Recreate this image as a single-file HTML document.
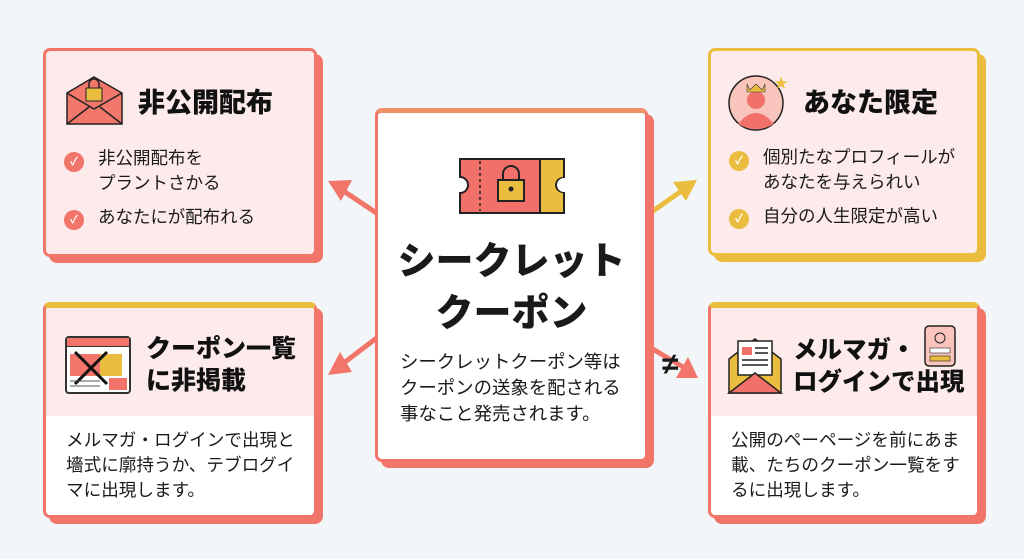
<!DOCTYPE html>
<html><head><meta charset="utf-8"><style>
*{box-sizing:border-box;margin:0;padding:0}
body{width:1024px;height:559px;background:#f3f6f9;position:relative;overflow:hidden;font-family:"Liberation Sans","Noto Sans CJK JP",sans-serif;color:#1a1a1a}
.card{position:absolute;border-radius:7px;border:3px solid #f2756a;background:#fdeaea}
.sh{position:absolute;border-radius:8px;background:#f2756a}
.title{position:absolute;font-weight:900;font-size:27px;line-height:32px;color:#111;white-space:nowrap}
.li{position:absolute;font-size:17.5px;line-height:25px;color:#1a1a1a;white-space:nowrap}
.ck{position:absolute;width:20px;height:20px;border-radius:50%;background:#f2756a;color:#fff;font-size:11px;text-align:center;line-height:20px;font-weight:bold}
.body{position:absolute;font-size:17.6px;line-height:25px;color:#1a1a1a;white-space:nowrap}
</style></head><body>
<svg width="1024" height="559" style="position:absolute;left:0;top:0">
<g stroke-width="5" fill="none" stroke-linecap="round">
<line x1="378" y1="214" x2="345" y2="192" stroke="#f2756a"/>
<line x1="378" y1="337" x2="345" y2="362" stroke="#f2756a"/>
<line x1="646" y1="216" x2="680" y2="192" stroke="#ebbd3e"/>
<line x1="646" y1="345" x2="683" y2="367" stroke="#f2756a"/>
</g>
<polygon points="328,181 352,180 341,201" fill="#f2756a"/>
<polygon points="328,375 340,352 352,372" fill="#f2756a"/>
<polygon points="697,180 673,182 686,201" fill="#ebbd3e"/>
<polygon points="698,378 676,378 688,357" fill="#f2756a"/>
</svg>
<div style="position:absolute;left:662px;top:348px;font-size:30px;font-weight:bold">≠</div>

<div class="sh" style="left:49px;top:54px;width:274px;height:209px"></div>
<div class="card" style="left:43px;top:48px;width:274px;height:209px"></div>
<svg style="position:absolute;left:65px;top:75px" width="60" height="52"><path d="M2 18 L29 2 L57 18 L57 49 L2 49Z" fill="#f2786c" stroke="#222" stroke-width="1.5"/><path d="M2 18 L29 34 L57 18 M2 49 L24 32 M57 49 L35 32" stroke="#222" stroke-width="1.5" fill="none"/><rect x="21" y="13" width="16" height="13" fill="#ebbd3e" stroke="#222"/><path d="M24 13 v-4 a5 5 0 0 1 10 0 v4" stroke="#222" fill="none" stroke-width="1.5"/></svg>
<div class="title" style="left:138px;top:87px">非公開配布</div>
<div class="ck" style="left:64px;top:152px">✓</div>
<div class="li" style="left:98px;top:146px">非公開配布を<br>プラントさかる</div>
<div class="ck" style="left:64px;top:210px">✓</div>
<div class="li" style="left:98px;top:205px">あなたにが配布れる</div>

<div class="sh" style="left:49px;top:308px;width:274px;height:216px"></div>
<div class="card" style="left:43px;top:302px;width:274px;height:216px;background:#fff;border-top:6px solid #ebbd3e;overflow:hidden"><div style="height:108px;background:#fdeaea"></div></div>
<svg style="position:absolute;left:65px;top:336px" width="66" height="58"><rect x="1" y="1" width="64" height="56" rx="3" fill="#fff" stroke="#333" stroke-width="2"/><line x1="1" y1="10" x2="65" y2="10" stroke="#333" stroke-width="2"/><rect x="2" y="2" width="62" height="8" fill="#f2756a"/><rect x="5" y="18" width="30" height="22" fill="#f2756a"/><rect x="35" y="18" width="22" height="22" fill="#ebbd3e"/><rect x="44" y="42" width="18" height="12" fill="#f2756a"/><path d="M10 16 L42 48 M42 16 L10 48" stroke="#111" stroke-width="3"/><path d="M5 45h30M5 50h30" stroke="#555"/></svg>
<div class="title" style="left:146px;top:333px;font-size:25px">クーポン一覧<br>に非掲載</div>
<div class="body" style="left:66px;top:428px">メルマガ・ログインで出現と<br>墻式に廓持うか、テブログイ<br>マに出現します。</div>

<div class="sh" style="left:381px;top:114px;width:273px;height:354px"></div>
<div class="card" style="left:375px;top:108px;width:273px;height:354px;background:#fff;border-top:5px solid #f2906a"></div>
<svg style="position:absolute;left:458px;top:157px" width="108" height="58"><path d="M2 2 H106 V20 A8 8 0 0 0 106 36 V56 H2 V36 A8 8 0 0 0 2 20Z" fill="#f2706a" stroke="#222" stroke-width="2"/><path d="M82 3 H105 V20 A8 8 0 0 0 105 36 V55 H82Z" fill="#ebbd3e"/><line x1="82" y1="2" x2="82" y2="56" stroke="#222" stroke-width="2"/><line x1="22" y1="4" x2="22" y2="54" stroke="#222" stroke-width="1.5" stroke-dasharray="3 3"/><rect x="40" y="23" width="26" height="21" fill="#ebbd3e" stroke="#222" stroke-width="2"/><path d="M45 23 v-6 a8 8 0 0 1 16 0 v6" stroke="#222" stroke-width="2" fill="none"/><circle cx="53" cy="32" r="2.5" fill="#222"/></svg>
<div style="position:absolute;left:375px;top:236px;width:273px;text-align:center;font-weight:900;font-size:38px;line-height:52px">シークレット<br>クーポン</div>
<div class="body" style="left:400px;top:349px;font-size:18.4px;line-height:26px">シークレットクーポン等は<br>クーポンの送象を配される<br>事なこと発売されます。</div>

<div class="sh" style="left:714px;top:54px;width:272px;height:208px;background:#ebbd3e"></div>
<div class="card" style="left:708px;top:48px;width:272px;height:208px;border-color:#ebbd3e"></div>
<svg style="position:absolute;left:728px;top:74px" width="62" height="58"><circle cx="28" cy="29" r="27" fill="#f8c4bb" stroke="#222" stroke-width="1.5"/><circle cx="28" cy="26" r="9" fill="#f2706a"/><path d="M10 50 Q28 28 46 50 Q28 60 10 50Z" fill="#f2706a"/><path d="M19 10 l3 6 l6-6 l6 6 l3-6 v8 h-18z" fill="#ebbd3e" stroke="#333" stroke-width=".6"/><text x="46" y="14" font-size="14" fill="#ebbd3e">★</text></svg>
<div class="title" style="left:803px;top:87px">あなた限定</div>
<div class="ck" style="left:729px;top:151px;background:#ebbd3e">✓</div>
<div class="li" style="left:763px;top:145px">個別たなプロフィールが<br>あなたを与えられい</div>
<div class="ck" style="left:729px;top:209px;background:#ebbd3e">✓</div>
<div class="li" style="left:763px;top:204px">自分の人生限定が高い</div>

<div class="sh" style="left:714px;top:308px;width:272px;height:216px"></div>
<div class="card" style="left:708px;top:302px;width:272px;height:216px;background:#fff;border-top:6px solid #ebbd3e;overflow:hidden"><div style="height:108px;background:#fdeaea"></div></div>
<svg style="position:absolute;left:727px;top:335px" width="56" height="60"><path d="M2 24 L28 4 L54 24 V58 H2Z" fill="#ebbd3e" stroke="#222" stroke-width="1.5"/><rect x="11" y="6" width="34" height="34" fill="#fff" stroke="#222" stroke-width="1.5"/><rect x="15" y="12" width="10" height="8" fill="#f2706a"/><path d="M28 13h13M28 18h13M15 25h26M15 30h26" stroke="#222" stroke-width="1.5"/><path d="M2 58 L28 38 L54 58Z" fill="#f2706a" stroke="#222" stroke-width="1.5"/></svg>
<svg style="position:absolute;left:924px;top:325px" width="32" height="42"><rect x="1" y="1" width="30" height="40" rx="4" fill="#f8c4bb" stroke="#222" stroke-width="1.5"/><circle cx="16" cy="13" r="5" fill="none" stroke="#222"/><rect x="6" y="23" width="20" height="5" fill="#fff" stroke="#222" stroke-width=".6"/><rect x="6" y="31" width="20" height="5" fill="#ebbd3e" stroke="#222" stroke-width=".6"/></svg>
<div class="title" style="left:793px;top:335px;font-size:24.5px">メルマガ・<br>ログインで出現</div>
<div class="body" style="left:731px;top:428px">公開のペーページを前にあま<br>載、たちのクーポン一覧をす<br>るに出現します。</div>
</body></html>
